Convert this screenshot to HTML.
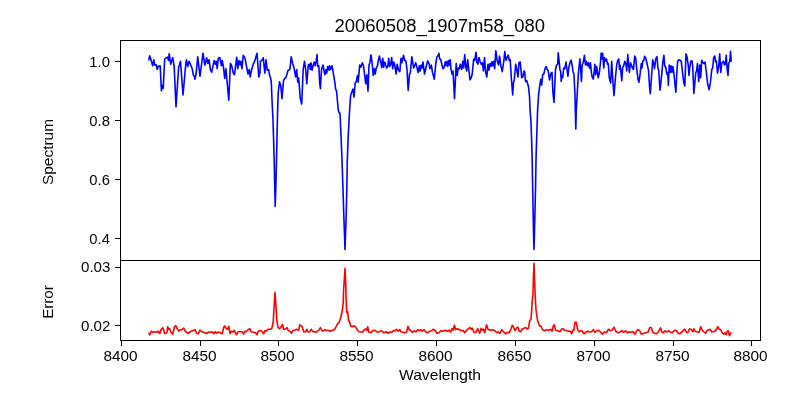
<!DOCTYPE html>
<html><head><meta charset="utf-8">
<style>
html,body{margin:0;padding:0;background:#fff;}
svg{display:block;}
text{font-family:"Liberation Sans",sans-serif;fill:#000;}
</style></head><body>
<svg width="800" height="400" viewBox="0 0 800 400">
<rect width="800" height="400" fill="#fff"/>
<g fill="none" stroke-linejoin="round" stroke-linecap="butt">
<polyline stroke="#0000ff" stroke-width="1.6" points="148.7,60.5 149.7,55.7 150.8,59.0 152.0,63.5 152.7,65.7 153.8,59.7 154.7,65.0 156.2,64.7 157.2,69.5 158.3,66.2 160.2,65.7 161.4,90.8 162.5,85.2 163.2,88.2 164.7,59.0 166.2,57.8 167.7,57.2 168.5,60.5 169.2,53.7 170.7,64.2 172.7,57.5 174.2,66.5 176.0,107.0 178.7,66.5 179.3,65.7 180.5,61.2 183.0,95.0 185.7,65.0 186.5,59.7 187.7,66.5 189.2,61.2 190.7,65.0 192.2,68.7 193.2,74.7 194.3,76.2 195.0,79.2 196.2,73.2 197.7,56.7 200.0,76.2 203.0,53.3 204.9,65.0 206.7,57.8 207.9,63.5 209.0,59.7 210.5,70.2 211.7,72.2 214.2,60.5 215.4,64.2 216.2,61.2 217.2,68.7 218.3,58.2 219.8,57.5 221.4,65.7 222.2,60.5 223.5,67.2 224.7,78.5 225.9,68.7 228.8,100.2 230.4,63.5 231.5,65.0 233.3,73.2 234.5,74.7 236.7,57.2 237.8,68.7 239.0,60.5 240.2,65.0 240.8,61.2 242.0,68.7 243.2,55.2 245.0,58.2 246.5,66.5 248.0,74.0 249.2,69.5 250.2,77.0 251.3,71.0 253.2,64.2 254.7,61.2 257.0,53.3 258.8,77.0 260.0,72.5 260.4,61.2 261.5,60.8 263.3,57.8 264.8,73.2 266.0,59.7 267.2,70.2 268.7,69.5 269.3,74.0 270.5,77.7 271.2,81.5 271.4,84.0 272.0,100.0 273.0,120.0 273.6,140.0 274.2,160.0 274.7,185.0 275.2,206.5 275.9,185.0 276.5,160.0 277.2,130.0 277.6,110.0 278.3,92.0 279.5,81.8 280.7,85.2 282.0,98.7 283.5,80.7 284.7,78.5 285.8,77.7 287.0,74.0 288.0,70.2 289.2,70.2 290.0,68.7 291.2,56.7 292.7,63.5 294.2,68.7 295.7,77.0 296.7,69.5 297.8,82.2 298.7,77.7 300.2,98.0 301.7,104.0 303.2,69.5 304.5,61.2 305.7,69.5 306.8,83.7 308.3,65.0 309.5,64.2 310.2,69.5 311.0,62.7 312.0,70.2 313.2,65.0 314.3,62.0 315.2,65.7 316.2,61.2 317.0,54.5 317.7,66.5 318.8,65.7 319.7,83.0 320.4,88.7 321.5,69.5 323.0,65.0 324.2,71.7 324.9,74.7 326.0,69.5 326.7,73.2 327.8,66.5 329.0,70.2 329.7,65.7 330.8,69.5 332.0,65.7 333.2,72.5 334.2,78.5 335.0,83.7 335.7,89.7 336.5,90.5 338.3,110.0 338.6,111.5 340.0,113.5 341.0,135.0 342.0,160.0 343.0,190.0 343.8,215.0 344.5,235.0 345.0,249.5 345.5,235.0 346.2,215.0 346.8,190.0 347.3,160.0 348.2,137.0 349.6,110.0 350.7,95.0 351.8,92.0 353.0,89.0 354.0,97.2 355.2,83.0 356.3,81.5 357.5,75.5 358.2,82.2 359.7,65.0 360.9,67.2 362.3,62.7 363.5,65.7 364.5,74.0 365.7,83.7 366.8,74.7 368.0,91.2 369.0,65.0 369.9,62.7 371.0,54.8 372.2,63.5 373.2,75.5 374.3,68.7 375.2,74.0 376.2,68.0 377.3,66.5 378.5,59.7 379.5,56.0 380.0,59.0 380.7,62.0 381.8,67.7 382.7,58.2 383.7,67.2 384.8,62.0 385.7,65.0 386.7,68.0 387.8,66.5 388.7,58.2 389.7,66.5 390.8,64.2 391.7,57.5 392.7,68.7 393.8,62.0 394.7,65.0 396.2,74.0 397.2,64.2 398.3,69.5 399.8,71.7 401.0,58.2 402.0,62.7 403.5,55.2 404.7,60.5 405.9,61.2 407.0,69.5 408.2,90.5 409.5,74.0 410.3,73.2 411.8,56.7 413.7,68.0 415.7,62.7 416.7,66.5 418.2,72.5 419.3,65.7 420.2,71.0 421.2,65.0 422.0,68.0 423.0,62.0 424.5,74.0 426.2,66.5 427.7,60.8 429.2,64.2 429.9,68.7 431.3,65.0 432.5,72.5 434.3,79.2 435.8,63.5 437.0,56.7 438.2,55.7 438.9,53.3 439.7,59.0 440.7,59.3 441.8,64.2 443.0,68.7 444.2,67.2 445.2,61.7 446.0,65.7 447.0,61.2 447.8,66.5 448.7,60.5 449.4,65.0 450.2,59.7 450.9,68.7 452.0,74.0 453.0,71.0 454.5,98.7 456.2,63.5 457.2,75.5 458.3,68.0 459.5,68.7 460.2,64.2 461.7,69.5 462.8,61.2 463.7,68.0 464.7,54.5 465.8,66.5 466.7,71.0 467.7,59.7 468.8,69.5 470.0,80.0 471.2,77.7 472.2,74.0 473.7,59.0 474.8,60.5 476.0,52.2 477.0,62.7 477.8,64.2 479.0,57.5 480.2,62.0 481.2,64.2 482.3,62.7 483.5,71.0 484.5,57.5 485.7,72.5 486.8,77.0 488.0,64.2 489.0,70.2 489.9,63.5 491.0,66.5 491.7,62.0 492.8,65.7 493.5,61.2 494.7,68.7 495.8,50.7 497.0,59.7 498.5,65.0 499.5,56.0 500.0,59.0 500.7,65.0 502.2,71.7 503.7,62.0 504.8,51.5 506.0,60.5 507.0,57.5 508.2,55.2 509.3,60.5 510.2,59.7 511.2,76.2 512.7,95.0 513.5,82.2 514.2,80.7 515.7,64.2 516.8,69.5 518.0,77.0 519.0,62.7 520.2,62.0 521.7,77.7 522.8,77.0 524.0,71.0 524.7,71.7 525.5,81.5 526.7,80.7 527.4,83.0 528.5,86.7 529.5,96.5 530.1,110.0 531.0,122.5 531.6,140.0 532.2,160.0 532.7,190.0 533.2,215.0 533.6,235.0 534.0,249.5 534.4,235.0 534.9,215.0 535.5,190.0 536.0,160.0 536.6,140.0 537.2,122.5 537.6,110.0 538.7,93.5 539.7,86.0 540.8,79.2 541.7,85.2 542.7,74.7 543.8,74.0 545.0,68.7 546.2,66.5 547.2,69.5 548.3,71.0 549.5,80.0 551.0,73.2 552.0,72.5 552.9,92.0 554.0,102.5 555.5,69.5 556.7,65.0 557.7,64.2 558.2,52.7 559.2,62.0 560.0,70.2 560.7,71.7 561.2,81.5 561.9,75.5 562.7,77.7 563.7,68.0 564.8,68.7 566.0,62.0 567.0,69.5 567.9,76.2 569.0,66.5 570.2,62.0 571.2,60.2 572.3,66.5 573.2,72.5 573.9,73.2 575.0,95.0 575.3,110.0 575.8,129.0 576.3,110.0 578.3,74.7 579.2,65.7 579.9,58.7 580.7,69.5 581.4,81.5 582.2,65.0 583.2,62.7 584.4,55.2 585.5,65.0 586.5,61.2 587.4,65.7 588.5,62.7 589.5,68.0 590.4,62.7 591.5,73.2 592.2,77.0 593.3,79.2 594.2,71.0 594.9,64.2 595.7,74.7 596.7,66.5 598.2,77.7 599.4,72.5 600.5,62.0 601.2,53.0 602.0,59.0 602.7,53.3 603.8,68.0 604.5,57.5 605.4,61.2 606.5,59.0 607.5,64.2 608.3,63.5 609.2,77.0 609.9,80.7 610.7,83.0 611.7,61.2 612.8,80.0 614.0,95.7 615.5,77.0 616.7,65.0 617.7,60.5 618.8,59.0 619.5,69.5 620.0,65.0 620.7,69.5 621.8,80.7 622.7,67.2 623.7,65.7 624.8,61.2 626.0,64.2 626.7,71.0 627.8,54.5 628.7,65.7 629.4,72.5 630.5,62.7 631.5,65.0 632.4,68.0 633.5,69.5 634.7,56.0 635.7,58.2 636.8,69.5 638.0,79.2 639.0,82.2 640.2,73.2 641.3,63.5 642.0,68.0 642.8,61.2 643.7,60.5 644.7,56.3 645.8,58.2 647.0,63.5 648.5,70.2 649.5,86.0 650.3,93.8 651.5,77.0 652.7,59.7 653.7,63.5 654.5,68.7 655.7,59.0 657.0,56.7 657.9,68.0 658.7,70.2 660.0,90.2 661.2,80.0 662.7,63.5 663.9,55.2 664.7,65.7 665.7,67.2 666.8,74.0 667.7,72.5 668.4,85.2 669.2,65.0 670.2,72.5 671.0,65.7 672.0,72.5 672.8,66.5 673.7,71.7 674.7,81.5 675.9,92.3 677.0,69.5 677.7,61.2 678.8,59.7 680.0,60.2 681.2,61.2 682.2,69.5 683.7,82.2 684.8,86.0 686.0,53.7 687.0,56.7 688.2,65.0 689.0,75.5 689.7,68.0 690.8,61.2 692.0,60.8 692.7,66.5 693.9,93.5 695.7,73.2 696.5,71.0 697.5,63.5 698.7,81.5 699.8,65.0 700.7,77.7 701.7,60.2 702.9,62.7 704.0,63.5 705.0,62.0 706.2,71.0 707.7,84.5 709.2,89.7 710.4,82.2 711.8,69.5 712.7,68.0 713.7,57.5 714.8,56.0 715.7,62.0 716.4,61.2 717.5,73.2 718.7,66.5 719.7,53.7 720.8,72.5 721.7,63.5 722.7,62.0 723.5,61.2 724.5,65.0 725.4,64.2 726.2,55.2 727.2,69.5 728.0,75.5 728.7,63.5 729.8,61.2 730.5,51.2 731.3,61.7"/>
<polyline stroke="#ff0000" stroke-width="1.6" points="148.7,332.7 149.7,335.0 151.2,331.2 152.7,332.3 155.0,331.7 156.8,332.3 158.3,331.2 159.8,333.5 161.3,329.3 162.8,327.8 164.7,333.5 167.0,332.7 167.7,326.7 168.8,329.3 169.7,328.7 171.2,332.7 172.7,334.2 174.5,326.7 175.7,325.7 177.2,328.7 178.7,331.2 180.2,329.7 182.0,329.7 183.8,328.2 185.3,331.2 188.0,333.5 191.0,331.2 193.2,330.5 195.2,329.7 196.7,333.5 198.2,333.8 200.0,330.2 201.8,331.7 203.7,332.3 206.7,333.5 208.7,332.0 210.8,332.3 212.7,332.0 213.9,333.8 215.4,331.7 216.8,333.2 218.3,332.0 220.2,332.7 222.2,333.8 223.7,327.5 224.7,326.0 226.2,328.7 227.4,329.3 228.8,326.3 230.0,333.5 231.5,331.2 233.3,332.0 234.2,330.2 235.2,332.7 236.7,334.7 237.8,331.7 239.7,331.7 242.0,331.7 243.5,334.2 245.0,331.2 246.2,331.7 248.0,329.7 249.8,328.7 251.3,332.0 254.0,332.3 255.5,332.7 257.0,334.7 258.2,331.2 260.0,330.5 261.8,331.2 263.7,333.8 264.8,330.8 266.0,331.2 268.2,329.3 270.2,329.3 271.7,328.7 273.2,322.2 274.2,305.0 275.0,292.2 275.7,302.0 276.8,320.0 278.0,327.2 279.5,328.7 280.7,327.5 282.5,324.5 283.7,329.3 285.2,329.3 287.0,327.5 288.5,330.8 290.0,331.2 291.5,333.2 293.0,330.5 294.8,330.2 296.7,329.3 298.7,330.2 299.7,324.8 302.0,326.3 303.8,332.0 305.7,331.7 306.8,329.3 308.0,332.0 309.8,331.7 311.3,329.3 312.8,331.7 314.7,331.7 316.2,332.3 317.7,330.8 318.8,330.5 320.3,327.5 321.8,330.5 323.0,331.2 324.8,329.7 326.7,330.5 328.7,330.5 330.2,331.2 332.0,330.5 334.2,329.7 335.7,327.5 336.8,325.2 338.0,323.3 339.2,322.2 340.7,317.7 342.2,311.0 343.2,303.5 343.6,290.0 344.3,280.0 345.0,268.3 345.6,280.0 346.1,298.0 346.7,312.5 347.7,311.7 348.5,320.0 349.7,322.2 350.7,326.0 352.2,326.7 354.2,325.7 356.0,327.5 357.5,330.2 359.0,331.7 360.8,332.0 362.7,332.0 364.2,329.7 365.7,329.0 366.8,330.2 367.7,326.7 368.7,332.0 371.0,332.7 373.2,330.2 375.5,330.5 377.0,332.0 378.5,332.3 380.0,331.2 381.5,330.8 383.7,332.7 386.3,331.7 388.2,333.2 389.7,332.0 392.0,332.3 393.5,330.5 395.0,330.8 396.5,329.3 398.0,331.2 399.8,329.7 401.3,332.0 403.2,332.3 404.7,332.7 406.7,332.0 407.9,326.3 409.2,329.7 410.7,330.5 412.2,332.3 414.2,330.8 416.0,332.0 417.8,329.7 419.3,330.8 420.8,329.7 422.3,331.2 424.2,329.7 425.7,331.7 427.7,332.7 429.8,331.2 431.7,330.8 433.2,329.3 435.2,330.5 437.0,333.2 439.2,332.7 440.7,330.8 443.0,331.2 445.2,330.2 447.5,331.2 449.3,330.2 450.5,332.0 452.0,328.7 453.2,330.2 454.4,325.2 455.7,329.7 457.2,328.7 459.5,329.7 461.7,330.8 463.2,330.5 464.7,332.7 466.7,330.2 468.5,328.7 470.0,327.5 471.2,329.3 472.2,328.2 474.2,332.7 476.0,332.0 477.8,328.7 479.7,333.2 481.2,328.2 482.3,330.2 483.5,329.3 484.7,332.7 486.5,324.8 488.0,329.3 490.2,330.2 492.5,329.7 494.7,330.5 496.7,332.7 498.2,331.7 500.0,333.5 501.8,329.7 503.7,332.0 505.7,333.8 507.5,332.3 509.3,332.7 510.8,329.3 512.3,325.2 513.5,327.2 515.0,330.5 516.5,328.2 518.0,327.2 519.2,331.2 520.7,331.7 522.2,329.0 524.0,328.2 525.8,327.5 527.0,329.0 528.5,328.2 529.7,320.7 531.0,319.2 532.2,302.0 532.9,295.0 533.4,280.0 534.0,263.3 534.6,280.0 535.3,298.0 536.0,310.0 537.5,320.0 538.7,323.7 539.7,326.0 540.8,325.7 542.3,329.3 544.2,330.8 546.5,329.7 548.7,330.2 550.7,329.3 552.2,331.2 553.2,326.0 554.3,324.8 555.5,330.2 557.7,330.8 560.0,331.7 561.8,329.0 563.0,328.7 564.5,330.5 566.7,330.5 569.0,331.2 570.5,331.2 571.7,333.8 573.2,329.7 573.9,330.2 575.0,322.2 576.2,322.2 577.7,329.7 579.2,331.7 581.7,330.5 584.0,333.8 585.8,332.3 587.7,331.2 589.7,332.0 591.5,331.7 593.3,329.7 594.8,332.3 596.7,330.8 598.7,330.2 600.5,332.0 602.3,334.2 604.2,332.0 606.5,332.7 608.3,329.3 610.2,330.5 612.2,330.2 614.0,327.2 615.5,330.8 617.7,332.7 620.0,332.3 621.8,330.5 623.7,332.3 625.7,330.8 627.5,332.7 629.3,331.7 631.2,332.3 633.2,331.7 635.0,334.2 636.8,330.5 638.3,329.7 639.8,330.8 641.3,334.2 643.2,333.5 645.5,332.7 648.2,332.0 649.7,327.5 651.2,327.5 652.7,332.0 654.5,333.2 656.7,333.8 658.7,331.2 660.5,327.8 662.0,332.3 663.5,332.7 665.0,330.8 666.5,332.0 668.3,330.8 670.2,332.0 672.2,332.7 674.0,330.8 675.2,330.2 676.7,330.8 678.2,333.5 680.0,333.8 682.2,331.7 683.7,329.7 684.9,329.3 686.7,332.7 688.2,332.0 689.4,329.0 691.2,329.3 692.7,331.7 693.9,328.7 695.0,331.2 697.2,331.7 699.2,332.3 700.7,326.7 702.2,330.2 704.0,332.0 705.5,333.2 707.3,330.5 708.8,329.7 710.3,329.3 711.8,332.0 713.7,331.7 715.7,330.5 717.8,326.7 719.3,329.3 720.8,329.7 722.3,333.2 723.8,334.2 725.0,332.7 726.2,334.7 727.2,331.2 728.3,330.8 729.5,335.7 730.5,333.2 731.3,333.8"/>
</g>
<g stroke="#000" stroke-width="1" fill="none" shape-rendering="crispEdges">
<rect x="120.5" y="40.5" width="640" height="220"/>
<rect x="120.5" y="260.5" width="640" height="80"/>
</g>
<g stroke="#000" stroke-width="1" shape-rendering="crispEdges">
<path d="M115,61.5H120.5M115,120.5H120.5M115,179.5H120.5M115,238.5H120.5M115,267.5H120.5M115,325.5H120.5"/>
<path d="M121.5,340.5V346M200.5,340.5V346M278.5,340.5V346M357.5,340.5V346M436.5,340.5V346M515.5,340.5V346M594.5,340.5V346M673.5,340.5V346M751.5,340.5V346"/>
</g>
<g style="opacity:0.999">
<g font-size="15">
<text x="89.3" y="66.6" textLength="20.6" lengthAdjust="spacingAndGlyphs">1.0</text>
<text x="89.3" y="125.8" textLength="20.6" lengthAdjust="spacingAndGlyphs">0.8</text>
<text x="89.3" y="184.8" textLength="20.6" lengthAdjust="spacingAndGlyphs">0.6</text>
<text x="89.3" y="243.8" textLength="20.6" lengthAdjust="spacingAndGlyphs">0.4</text>
<text x="81" y="272.4" textLength="29.4" lengthAdjust="spacingAndGlyphs">0.03</text>
<text x="81" y="330.6" textLength="29.4" lengthAdjust="spacingAndGlyphs">0.02</text>
</g>
<g font-size="15" text-anchor="middle">
<text x="120.5" y="361.4" textLength="34.2" lengthAdjust="spacingAndGlyphs">8400</text>
<text x="199.5" y="361.4" textLength="34.2" lengthAdjust="spacingAndGlyphs">8450</text>
<text x="277.5" y="361.4" textLength="34.2" lengthAdjust="spacingAndGlyphs">8500</text>
<text x="356.5" y="361.4" textLength="34.2" lengthAdjust="spacingAndGlyphs">8550</text>
<text x="435.5" y="361.4" textLength="34.2" lengthAdjust="spacingAndGlyphs">8600</text>
<text x="514.5" y="361.4" textLength="34.2" lengthAdjust="spacingAndGlyphs">8650</text>
<text x="593.5" y="361.4" textLength="34.2" lengthAdjust="spacingAndGlyphs">8700</text>
<text x="672.5" y="361.4" textLength="34.2" lengthAdjust="spacingAndGlyphs">8750</text>
<text x="750.5" y="361.4" textLength="34.2" lengthAdjust="spacingAndGlyphs">8800</text>
</g>
<text x="440" y="380" font-size="14.6" text-anchor="middle" textLength="82" lengthAdjust="spacingAndGlyphs">Wavelength</text>
<text x="439.7" y="31.8" font-size="18.3" text-anchor="middle" textLength="210.5" lengthAdjust="spacingAndGlyphs">20060508_1907m58_080</text>
<text transform="translate(53.2,152) rotate(-90)" font-size="14.6" text-anchor="middle" textLength="66" lengthAdjust="spacingAndGlyphs">Spectrum</text>
<text transform="translate(53.2,302) rotate(-90)" font-size="14.6" text-anchor="middle" textLength="33.6" lengthAdjust="spacingAndGlyphs">Error</text>
</g>
</svg>
</body></html>
